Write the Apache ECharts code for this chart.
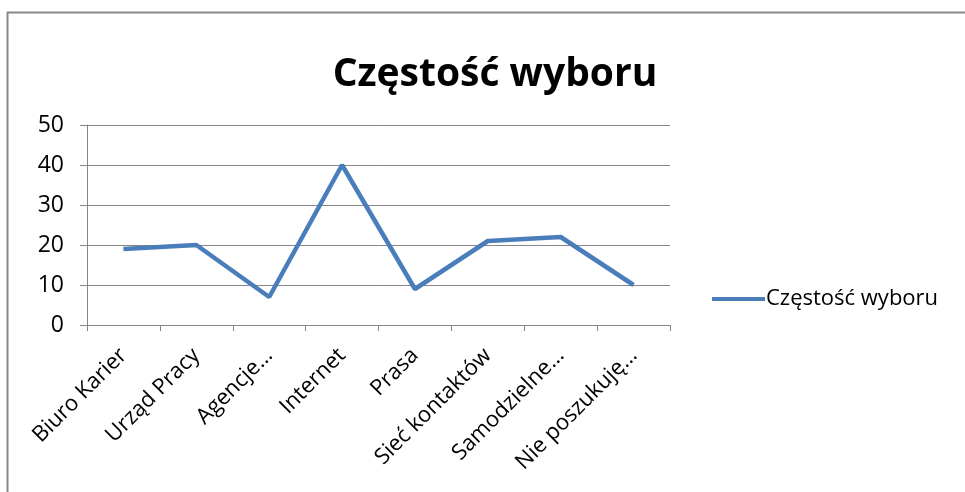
<!DOCTYPE html>
<html>
<head>
<meta charset="utf-8">
<script src="https://cdn.jsdelivr.net/npm/echarts@6/dist/echarts.min.js"></script>
<style>
  html, body { margin: 0; padding: 0; background: #fff; }
  #main { width: 965px; height: 492px; }
</style>
</head>
<body>
<div id="main"></div>
<script>
var categories = ["Biuro Karier", "Urząd Pracy", "Agencje…", "Internet", "Prasa", "Sieć kontaktów", "Samodzielne…", "Nie poszukuję…"];
var values = [19, 20, 7, 40, 9, 21, 22, 10];
var seriesName = "Częstość wyboru";
var titleText = "Częstość wyboru";

var font = "Open Sans";
var myChart = echarts.init(document.getElementById("main"));

var option = {
  animation: false,
  textStyle: { fontFamily: font },
  title: {
    text: titleText,
    left: 490,
    textAlign: "center",
    top: 50,
    textStyle: { fontFamily: font, fontSize: 39, fontWeight: "bold", color: "#000" }
  },
  legend: {
    left: 707,
    top: 283,
    itemWidth: 53,
    itemHeight: 4,
    itemGap: 4,
    icon: "rect",
    textStyle: { fontFamily: font, fontSize: 22, color: "#000", padding: [0, 0, 0, -4] },
    data: [seriesName]
  },
  grid: { left: 87, right: 295, top: 125, bottom: 167, containLabel: false },
  xAxis: {
    type: "category",
    data: categories,
    boundaryGap: true,
    axisLine: { lineStyle: { color: "#868686", width: 1 } },
    axisTick: { show: true, length: 6, interval: 0, lineStyle: { color: "#868686" } },
    axisLabel: {
      interval: 0,
      rotate: 45,
      margin: 27,
      fontSize: 22,
      color: "#000",
      fontFamily: font
    }
  },
  yAxis: {
    type: "value",
    min: 0,
    max: 50,
    interval: 10,
    axisLine: { show: true, lineStyle: { color: "#868686", width: 1 } },
    axisTick: { show: true, length: 7, lineStyle: { color: "#868686" } },
    splitLine: { lineStyle: { color: "#868686", width: 1 } },
    axisLabel: { fontSize: 23, color: "#000", margin: 23, fontFamily: font }
  },
  series: [
    {
      name: seriesName,
      type: "line",
      data: values,
      symbol: "none",
      lineStyle: { color: "#4A7EBB", width: 4.5 },
      itemStyle: { color: "#4A7EBB" }
    }
  ],
  graphic: [
    { type: "line", shape: { x1: 7, y1: 12.5, x2: 965, y2: 12.5 }, style: { stroke: "#888", lineWidth: 2 } },
    { type: "line", shape: { x1: 7.5, y1: 12, x2: 7.5, y2: 492 }, style: { stroke: "#888", lineWidth: 2 } }
  ]
};

myChart.setOption(option);
</script>
</body>
</html>
